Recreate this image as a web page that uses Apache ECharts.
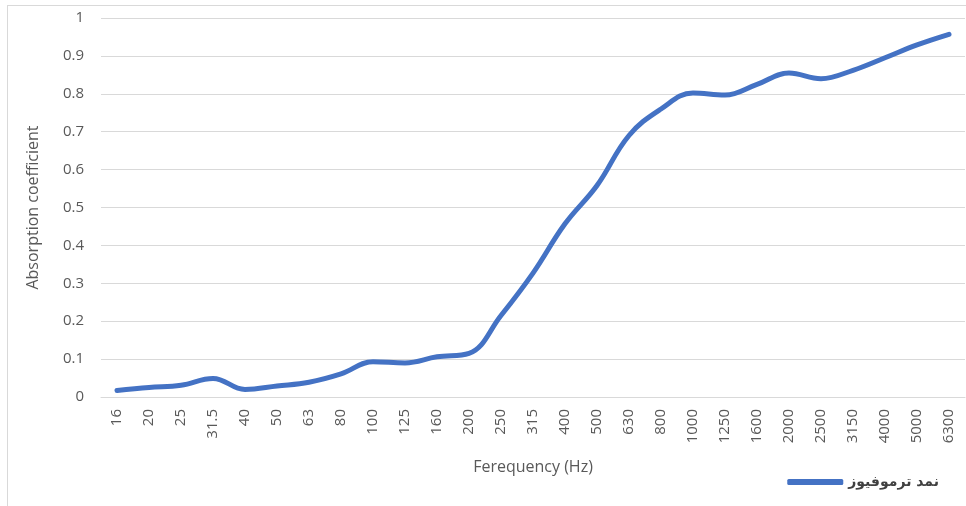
<!DOCTYPE html>
<html><head><meta charset="utf-8">
<script src="https://cdn.jsdelivr.net/npm/echarts@6/dist/echarts.min.js"></script>
<style>
html,body{margin:0;padding:0;background:#fff;}
#frame{position:absolute;left:7px;top:5px;width:980px;height:520px;border:1px solid #d9d9d9;box-sizing:border-box;}
#c{position:absolute;left:0;top:0;width:966px;height:506px;}
</style></head>
<body>
<div id="frame"></div>
<div id="c"></div>
<script>
const categories = ['16','20','25','31.5','40','50','63','80','100','125','160','200','250','315','400','500','630','800','1000','1250','1600','2000','2500','3150','4000','5000','6300'];
const absorption = [0.017,0.025,0.031,0.049,0.02,0.029,0.039,0.061,0.093,0.09,0.106,0.115,0.215,0.327,0.457,0.558,0.69,0.76,0.802,0.797,0.825,0.855,0.84,0.862,0.895,0.929,0.957];
const yTicks = {min:0, max:1, interval:0.1};
const seriesName = 'نمد ترموفیوز';
const xTitle = 'Ferequency (Hz)';
const yTitle = 'Absorption coefficient';

const chart = echarts.init(document.getElementById('c'), null, {renderer:'canvas'});
const font = 'Open Sans';
chart.setOption({
  animation:false,
  backgroundColor:'transparent',
  grid:{left:101,right:1,top:18,bottom:109,containLabel:false},
  legend:{
    data:[seriesName], right:22, bottom:12, itemWidth:56, itemHeight:6, icon:'roundRect', itemGap:8,
    textStyle:{fontFamily:'DejaVu Sans',fontWeight:'bold',fontSize:14,color:'#404040'}
  },
  xAxis:{
    type:'category', data:categories, boundaryGap:true,
    name:xTitle, nameLocation:'middle', nameGap:62,
    nameTextStyle:{fontFamily:font,fontSize:16,color:'#595959'},
    axisLine:{lineStyle:{color:'#d9d9d9',width:1}},
    axisTick:{show:false},
    axisLabel:{rotate:90,fontFamily:font,fontSize:15,color:'#595959',margin:12}
  },
  yAxis:{
    type:'value', min:yTicks.min, max:yTicks.max, interval:yTicks.interval,
    name:yTitle, nameLocation:'middle', nameGap:60,
    nameTextStyle:{fontFamily:font,fontSize:16,color:'#595959'},
    axisLine:{show:false}, axisTick:{show:false},
    axisLabel:{fontFamily:font,fontSize:15,color:'#595959',margin:17,formatter:v=>String(Math.round(v*10)/10)},
    splitLine:{lineStyle:{color:'#d9d9d9',width:1}}
  },
  series:[{
    name:seriesName, type:'line', data:absorption, smooth:0.4,
    showSymbol:false, symbol:'none',
    lineStyle:{color:'#4472C4',width:5,cap:'round'},
    itemStyle:{color:'#4472C4'}
  }]
});
</script>
</body></html>
